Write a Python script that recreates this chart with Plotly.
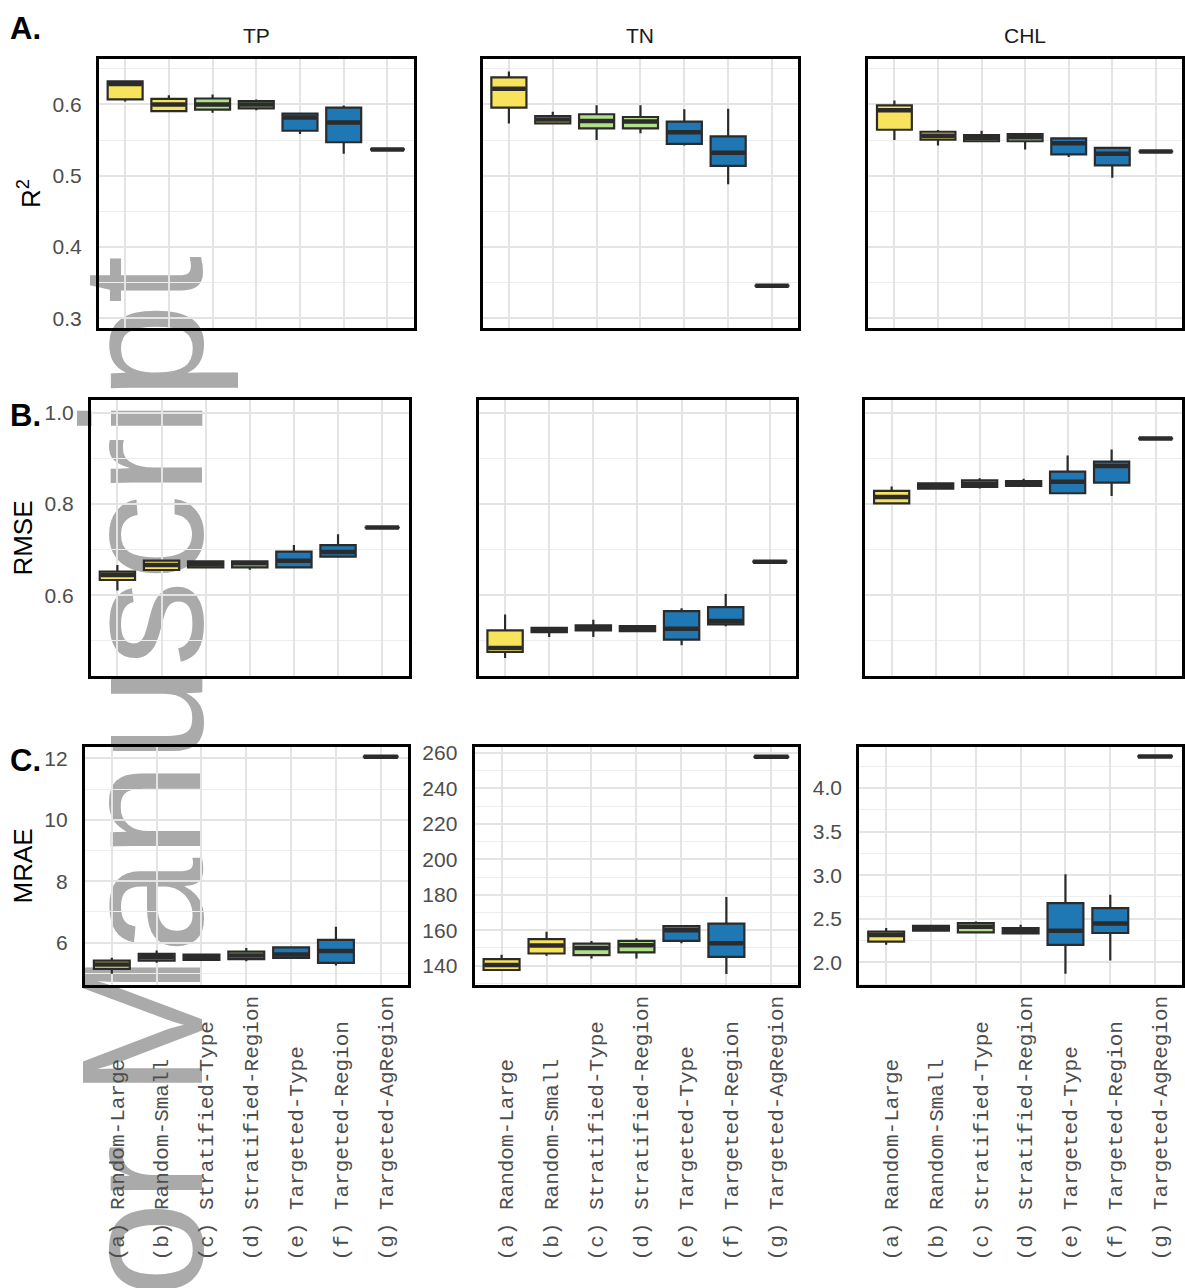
import plotly.graph_objects as go

# ---------------- data ----------------
categories = ["(a) Random-Large", "(b) Random-Small", "(c) Stratified-Type",
              "(d) Stratified-Region", "(e) Targeted-Type", "(f) Targeted-Region",
              "(g) Targeted-AgRegion"]
fill_colors = ["#F8E45C", "#F8E45C", "#B2DF8A", "#B2DF8A", "#1F78B4", "#1F78B4", "#1F78B4"]
variables = ["TP", "TN", "CHL"]
metrics = ["R<sup>2</sup>", "RMSE", "MRAE"]

# R2
r2_tp_lo  = [0.604, 0.590, 0.5885, 0.5917, 0.5585, 0.531, 0.537]
r2_tp_q1  = [0.607, 0.5907, 0.5927, 0.5945, 0.5631, 0.547, 0.537]
r2_tp_med = [0.6286, 0.600, 0.600, 0.600, 0.5816, 0.5747, 0.537]
r2_tp_q3  = [0.6322, 0.6079, 0.6083, 0.6046, 0.5871, 0.5954, 0.537]
r2_tp_hi  = [0.6332, 0.6129, 0.6138, 0.6069, 0.5871, 0.5986, 0.537]

r2_tn_lo  = [0.5733, 0.5733, 0.5502, 0.5595, 0.5423, 0.488, 0.3459]
r2_tn_q1  = [0.5954, 0.5733, 0.5664, 0.5664, 0.5447, 0.5138, 0.3459]
r2_tn_med = [0.6221, 0.5788, 0.5769, 0.5760, 0.5609, 0.5322, 0.3459]
r2_tn_q3  = [0.6378, 0.5838, 0.5862, 0.5824, 0.5760, 0.5553, 0.3459]
r2_tn_hi  = [0.6461, 0.5899, 0.5990, 0.5990, 0.5931, 0.5940, 0.3459]

r2_chl_lo  = [0.5502, 0.5423, 0.548, 0.5368, 0.5263, 0.4972, 0.534]
r2_chl_q1  = [0.5645, 0.5506, 0.5484, 0.5484, 0.5299, 0.5147, 0.534]
r2_chl_med = [0.5917, 0.5562, 0.553, 0.554, 0.5456, 0.5308, 0.534]
r2_chl_q3  = [0.5986, 0.5617, 0.5571, 0.5585, 0.5525, 0.5391, 0.534]
r2_chl_hi  = [0.6055, 0.5640, 0.5631, 0.5585, 0.5540, 0.5391, 0.534]

# RMSE
rmse_tp_lo  = [0.6103, 0.6553, 0.6612, 0.656, 0.6612, 0.6846, 0.7486]
rmse_tp_q1  = [0.6334, 0.6553, 0.6612, 0.6612, 0.6612, 0.6846, 0.7486]
rmse_tp_med = [0.6443, 0.6662, 0.6678, 0.6699, 0.6758, 0.6950, 0.7486]
rmse_tp_q3  = [0.6518, 0.6758, 0.6743, 0.6743, 0.6955, 0.7100, 0.7486]
rmse_tp_hi  = [0.6662, 0.6758, 0.6743, 0.6743, 0.7099, 0.7340, 0.7486]

rmse_tn_lo  = [0.4623, 0.5082, 0.5082, 0.5213, 0.4900, 0.532, 0.6736]
rmse_tn_q1  = [0.4754, 0.5191, 0.5228, 0.5213, 0.5027, 0.536, 0.6736]
rmse_tn_med = [0.4842, 0.5235, 0.5279, 0.5268, 0.5264, 0.5435, 0.6736]
rmse_tn_q3  = [0.5228, 0.5285, 0.5337, 0.5322, 0.5650, 0.5738, 0.6736]
rmse_tn_hi  = [0.5578, 0.5285, 0.5460, 0.5322, 0.5716, 0.6029, 0.6736]

rmse_chl_lo  = [0.8015, 0.8339, 0.8339, 0.8397, 0.8237, 0.8179, 0.9439]
rmse_chl_q1  = [0.8015, 0.8339, 0.8375, 0.8397, 0.8237, 0.8470, 0.9439]
rmse_chl_med = [0.8157, 0.8397, 0.8448, 0.8448, 0.8492, 0.8834, 0.9439]
rmse_chl_q3  = [0.8289, 0.8455, 0.8520, 0.8506, 0.8710, 0.8929, 0.9439]
rmse_chl_hi  = [0.8383, 0.8455, 0.8564, 0.8557, 0.9067, 0.9198, 0.9439]

# MRAE
mrae_tp_lo  = [4.984, 5.34, 5.40, 5.394, 5.50, 5.25, 12.06]
mrae_tp_q1  = [5.146, 5.415, 5.437, 5.459, 5.503, 5.34, 12.06]
mrae_tp_med = [5.286, 5.525, 5.525, 5.578, 5.61, 5.73, 12.06]
mrae_tp_q3  = [5.415, 5.633, 5.61, 5.708, 5.847, 6.086, 12.06]
mrae_tp_hi  = [5.503, 5.74, 5.64, 5.827, 5.88, 6.52, 12.06]

mrae_tn_lo  = [137.6, 145.6, 144.1, 144.1, 152.7, 135.3, 257.8]
mrae_tn_q1  = [137.6, 146.9, 146.0, 147.5, 154.0, 145.0, 257.8]
mrae_tn_med = [140.4, 151.4, 150.0, 151.6, 160.0, 152.7, 257.8]
mrae_tn_q3  = [143.75, 155.0, 152.5, 154.0, 162.4, 163.7, 257.8]
mrae_tn_hi  = [146.2, 159.2, 154.0, 155.5, 162.4, 178.7, 257.8]

mrae_chl_lo  = [2.202, 2.362, 2.343, 2.331, 1.867, 2.019, 4.363]
mrae_chl_q1  = [2.237, 2.362, 2.343, 2.331, 2.199, 2.336, 4.363]
mrae_chl_med = [2.313, 2.391, 2.408, 2.362, 2.362, 2.446, 4.363]
mrae_chl_q3  = [2.351, 2.419, 2.450, 2.393, 2.679, 2.622, 4.363]
mrae_chl_hi  = [2.393, 2.419, 2.469, 2.431, 3.010, 2.774, 4.363]

panels = [
    [(r2_tp_lo, r2_tp_q1, r2_tp_med, r2_tp_q3, r2_tp_hi),
     (r2_tn_lo, r2_tn_q1, r2_tn_med, r2_tn_q3, r2_tn_hi),
     (r2_chl_lo, r2_chl_q1, r2_chl_med, r2_chl_q3, r2_chl_hi)],
    [(rmse_tp_lo, rmse_tp_q1, rmse_tp_med, rmse_tp_q3, rmse_tp_hi),
     (rmse_tn_lo, rmse_tn_q1, rmse_tn_med, rmse_tn_q3, rmse_tn_hi),
     (rmse_chl_lo, rmse_chl_q1, rmse_chl_med, rmse_chl_q3, rmse_chl_hi)],
    [(mrae_tp_lo, mrae_tp_q1, mrae_tp_med, mrae_tp_q3, mrae_tp_hi),
     (mrae_tn_lo, mrae_tn_q1, mrae_tn_med, mrae_tn_q3, mrae_tn_hi),
     (mrae_chl_lo, mrae_chl_q1, mrae_chl_med, mrae_chl_q3, mrae_chl_hi)],
]

# ---------------- layout geometry (pixels) ----------------
W, H = 1185, 1288
col_px = [[(99, 414), (483, 799), (869, 1183)],
          [(91, 409), (479, 797), (866, 1183)],
          [(85, 408), (475, 799), (860, 1183)]]
row_px = [(54, 325), (397, 674), (745, 985)]

y_settings = [
    [dict(range=[0.286, 0.664], dtick=0.1, tick0=0, minor=0.05, fmt=".1f")] * 3,
    [dict(range=[0.423, 1.028], dtick=0.2, tick0=0, minor=0.1, fmt=".1f")] * 3,
    [dict(range=[4.605, 12.39], dtick=2, tick0=0, minor=1, fmt="d"),
     dict(range=[128.9, 263.6], dtick=20, tick0=0, minor=10, fmt="d"),
     dict(range=[1.734, 4.477], dtick=0.5, tick0=0, minor=0.25, fmt=".1f")],
]

OUTLINE = "#2B2B2B"
GRID = "#E4E4E4"
MINOR = "#EEEEEE"
SANS = "Liberation Sans, Arial, Helvetica, sans-serif"
MONO = "Liberation Mono, Courier New, monospace"
TICKGRAY = "#4D4D4D"

maxlen = max(len(c) for c in categories)
padded = [c + "\u00a0" * (maxlen - len(c)) for c in categories]

fig = go.Figure()
layout = dict(width=W, height=H, margin=dict(l=0, r=0, t=0, b=0), autosize=False,
              paper_bgcolor="white", plot_bgcolor="rgba(0,0,0,0)",
              showlegend=False, boxmode="overlay")

for r in range(3):
    for c in range(3):
        k = r * 3 + c + 1
        xa = "x" if k == 1 else f"x{k}"
        ya = "y" if k == 1 else f"y{k}"
        lo, q1, med, q3, hi = panels[r][c]
        for i, cat in enumerate(categories):
            fig.add_trace(go.Box(
                x=[cat], q1=[q1[i]], median=[med[i]], q3=[q3[i]],
                lowerfence=[lo[i]], upperfence=[hi[i]],
                fillcolor=fill_colors[i], line=dict(color=OUTLINE, width=2.2),
                whiskerwidth=0, width=0.8, boxpoints=False,
                xaxis=xa, yaxis=ya, hoverinfo="skip"))
        # thicker median bars (like ggplot's fattened median)
        for i, cat in enumerate(categories):
            fig.add_trace(go.Box(
                x=[cat], q1=[med[i]], median=[med[i]], q3=[med[i]],
                lowerfence=[med[i]], upperfence=[med[i]],
                fillcolor=OUTLINE, line=dict(color=OUTLINE, width=4.5),
                whiskerwidth=0, width=0.76, boxpoints=False,
                xaxis=xa, yaxis=ya, hoverinfo="skip"))

        x0, x1 = col_px[r][c]
        y0, y1 = row_px[r]
        ys = y_settings[r][c]
        xkey = "xaxis" if k == 1 else f"xaxis{k}"
        ykey = "yaxis" if k == 1 else f"yaxis{k}"
        layout[xkey] = dict(
            domain=[x0 / W, x1 / W], anchor=ya, type="category",
            categoryorder="array", categoryarray=categories,
            range=[-0.6, 6.6], showgrid=True, gridcolor=GRID, gridwidth=1.5,
            showline=True, mirror=True, linecolor="black", linewidth=3,
            ticks="", zeroline=False,
            showticklabels=(r == 2), tickangle=-90,
            tickvals=categories, ticktext=padded,
            tickfont=dict(family=MONO, size=21, color=TICKGRAY),
            ticklabelstandoff=-1, ticklabelshift=5)
        layout[ykey] = dict(
            domain=[1 - y1 / H, 1 - y0 / H], anchor=xa,
            range=ys["range"], dtick=ys["dtick"], tick0=ys["tick0"],
            tickformat=ys["fmt"],
            showgrid=True, gridcolor=GRID, gridwidth=1.5,
            minor=dict(dtick=ys["minor"], tick0=0, showgrid=True,
                       gridcolor=MINOR, gridwidth=1),
            showline=True, mirror=True, linecolor="black", linewidth=3,
            ticks="", zeroline=False,
            showticklabels=(c == 0 or r == 2),
            tickfont=dict(family=SANS, size=21, color=TICKGRAY),
            ticklabelstandoff=10)
        if c == 0:
            layout[ykey]["title"] = dict(text=metrics[r],
                                         font=dict(family=SANS, size=26, color="black"),
                                         standoff=5)

annotations = []
for c, v in enumerate(variables):
    x0, x1 = col_px[0][c]
    annotations.append(dict(text=v, x=(x0 + x1) / 2 / W, y=1 - 31 / H,
                            xref="paper", yref="paper", showarrow=False,
                            xanchor="center", yanchor="middle",
                            font=dict(family=SANS, size=21, color="#1A1A1A")))
for lab, py in zip(["A.", "B.", "C."], [24, 412, 759]):
    annotations.append(dict(text=f"<b>{lab}</b>", x=8 / W, y=1 - py / H,
                            xref="paper", yref="paper", showarrow=False,
                            xanchor="left", yanchor="middle",
                            font=dict(family=SANS, size=31, color="black")))
layout["annotations"] = annotations

# watermark, drawn beneath the panels
layout["shapes"] = [dict(
    type="rect", xref="paper", yref="paper",
    x0=81 / W, x1=171 / W, y0=1 - 1651 / H, y1=1 - 255 / H,
    line=dict(width=0), fillcolor="rgba(0,0,0,0)", layer="below",
    label=dict(text="Author Manuscript", textangle=-90, textposition="middle center",
               font=dict(family=SANS, size=172, color="#AAAAAA")))]

fig.update_layout(**layout)
fig.write_html("out.html", config={"displayModeBar": False},
               post_script="document.body.style.margin='0';document.body.style.padding='0';")
